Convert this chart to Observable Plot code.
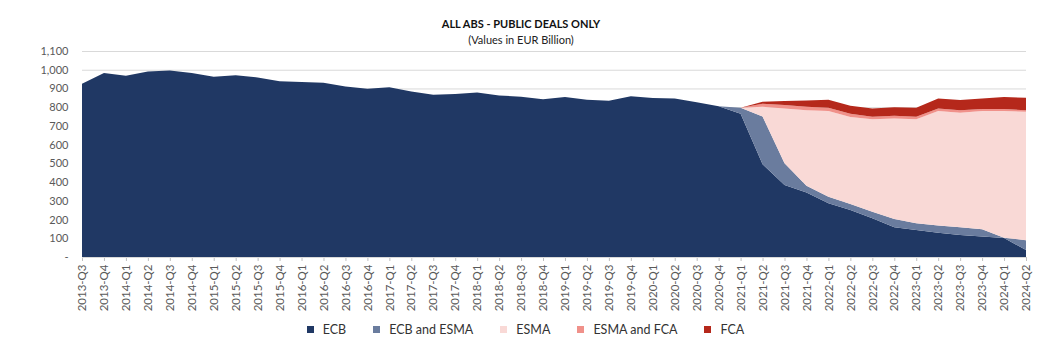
<!DOCTYPE html>
<html>
<head>
<meta charset="utf-8">
<script src="https://cdn.jsdelivr.net/npm/d3@7"></script>
<script src="https://cdn.jsdelivr.net/npm/@observablehq/plot@0.6"></script>
<style>
  html, body { margin: 0; padding: 0; background: #fff; }
  body { width: 1051px; height: 349px; position: relative; overflow: hidden; font-family: Lato, "Open Sans", sans-serif; }
  #title { position: absolute; left: 0; width: 1042px; top: 17px; text-align: center; font-size: 11px; font-weight: bold; color: #111; line-height: 14px; z-index: 2; }
  #subtitle { position: absolute; left: 0; width: 1042px; top: 33px; text-align: center; font-size: 11px; color: #222; line-height: 14px; z-index: 2; }
  #chart { position: absolute; left: 0; top: 36px; z-index: 1; }
  #legend { position: absolute; left: 0; width: 1051px; top: 322px; display: flex; justify-content: center; gap: 27px; font-size: 12.5px; color: #333; box-sizing: border-box; }
  .item { display: flex; align-items: center; gap: 9px; }
  .sw { width: 7px; height: 7px; display: inline-block; }
</style>
</head>
<body>
<div id="title">ALL ABS - PUBLIC DEALS ONLY</div>
<div id="subtitle">(Values in EUR Billion)</div>
<div id="chart"></div>
<div id="legend"></div>
<script>
const quarters = [
  "2013-Q3","2013-Q4",
  "2014-Q1","2014-Q2","2014-Q3","2014-Q4",
  "2015-Q1","2015-Q2","2015-Q3","2015-Q4",
  "2016-Q1","2016-Q2","2016-Q3","2016-Q4",
  "2017-Q1","2017-Q2","2017-Q3","2017-Q4",
  "2018-Q1","2018-Q2","2018-Q3","2018-Q4",
  "2019-Q1","2019-Q2","2019-Q3","2019-Q4",
  "2020-Q1","2020-Q2","2020-Q3","2020-Q4",
  "2021-Q1","2021-Q2","2021-Q3","2021-Q4",
  "2022-Q1","2022-Q2","2022-Q3","2022-Q4",
  "2023-Q1","2023-Q2","2023-Q3","2023-Q4",
  "2024-Q1","2024-Q2"
];
const ecb = [925,982,968,991,996,982,963,971,959,939,
             934,930,911,898,907,884,866,870,879,863,
             856,842,854,840,834,859,849,847,827,805,
             765,495,385,344,287,251,207,159,144,130,
             118,109,101,37];
const ecbAndEsma = [0,0,0,0,0,0,0,0,0,0, 0,0,0,0,0,0,0,0,0,0, 0,0,0,0,0,0,0,0,0,0,
             32,255,116,37,35,32,35,44,36,38,41,39,2,53];
const esma = [0,0,0,0,0,0,0,0,0,0, 0,0,0,0,0,0,0,0,0,0, 0,0,0,0,0,0,0,0,0,0,
             0,52,292,403,457,464,494,537,556,611,611,631,676,685];
const esmaAndFca = [0,0,0,0,0,0,0,0,0,0, 0,0,0,0,0,0,0,0,0,0, 0,0,0,0,0,0,0,0,0,0,
             0,16,18,18,18,18,13,14,13,14,14,11,11,9];
const fca = [0,0,0,0,0,0,0,0,0,0, 0,0,0,0,0,0,0,0,0,0, 0,0,0,0,0,0,0,0,0,0,
             0,11,22,34,43,42,44,45,48,54,54,57,64,66];

const seriesNames = ["ECB","ECB and ESMA","ESMA","ESMA and FCA","FCA"];
const seriesColors = ["#203864","#6a7c9e","#f9d9d6","#f0918a","#b5281b"];
const yTicks = [0,100,200,300,400,500,600,700,800,900,1000,1100];

const seriesValues = [ecb, ecbAndEsma, esma, esmaAndFca, fca];
const rows = [];
seriesNames.forEach((s, i) => {
  quarters.forEach((q, j) => rows.push({series: s, q, v: seriesValues[i][j]}));
});

const chart = Plot.plot({
  width: 1051,
  height: 282,
  marginLeft: 82,
  marginRight: 25,
  marginTop: 15,
  marginBottom: 61,
  style: {fontFamily: "Lato, 'Open Sans', sans-serif", fontSize: "11px", color: "#595959", background: "transparent"},
  x: {type: "point", domain: quarters, padding: 0},
  y: {domain: [0, 1100]},
  color: {domain: seriesNames, range: seriesColors},
  marks: [
    Plot.gridY(yTicks, {stroke: "#d9d9d9", strokeOpacity: 1}),
    Plot.areaY(rows, {x: "q", y: "v", z: "series", fill: "series", order: seriesNames, curve: "linear"}),
    Plot.axisY({ticks: yTicks, tickSize: 0, tickPadding: 14, label: null,
      tickFormat: d => d === 0 ? "-" : d3.format(",")(d)}),
    Plot.axisX({tickRotate: -90, tickSize: 4, tickPadding: 3, label: null, stroke: "#bfbfbf", fontSize: 11.5}),
    Plot.ruleY([0], {stroke: "#d9d9d9"})
  ]
});
document.getElementById("chart").appendChild(chart);

const legend = document.getElementById("legend");
seriesNames.forEach((s, i) => {
  const it = document.createElement("div");
  it.className = "item";
  const sw = document.createElement("span");
  sw.className = "sw";
  sw.style.background = seriesColors[i];
  const t = document.createElement("span");
  t.textContent = s;
  it.appendChild(sw); it.appendChild(t);
  legend.appendChild(it);
});
</script>
</body>
</html>
